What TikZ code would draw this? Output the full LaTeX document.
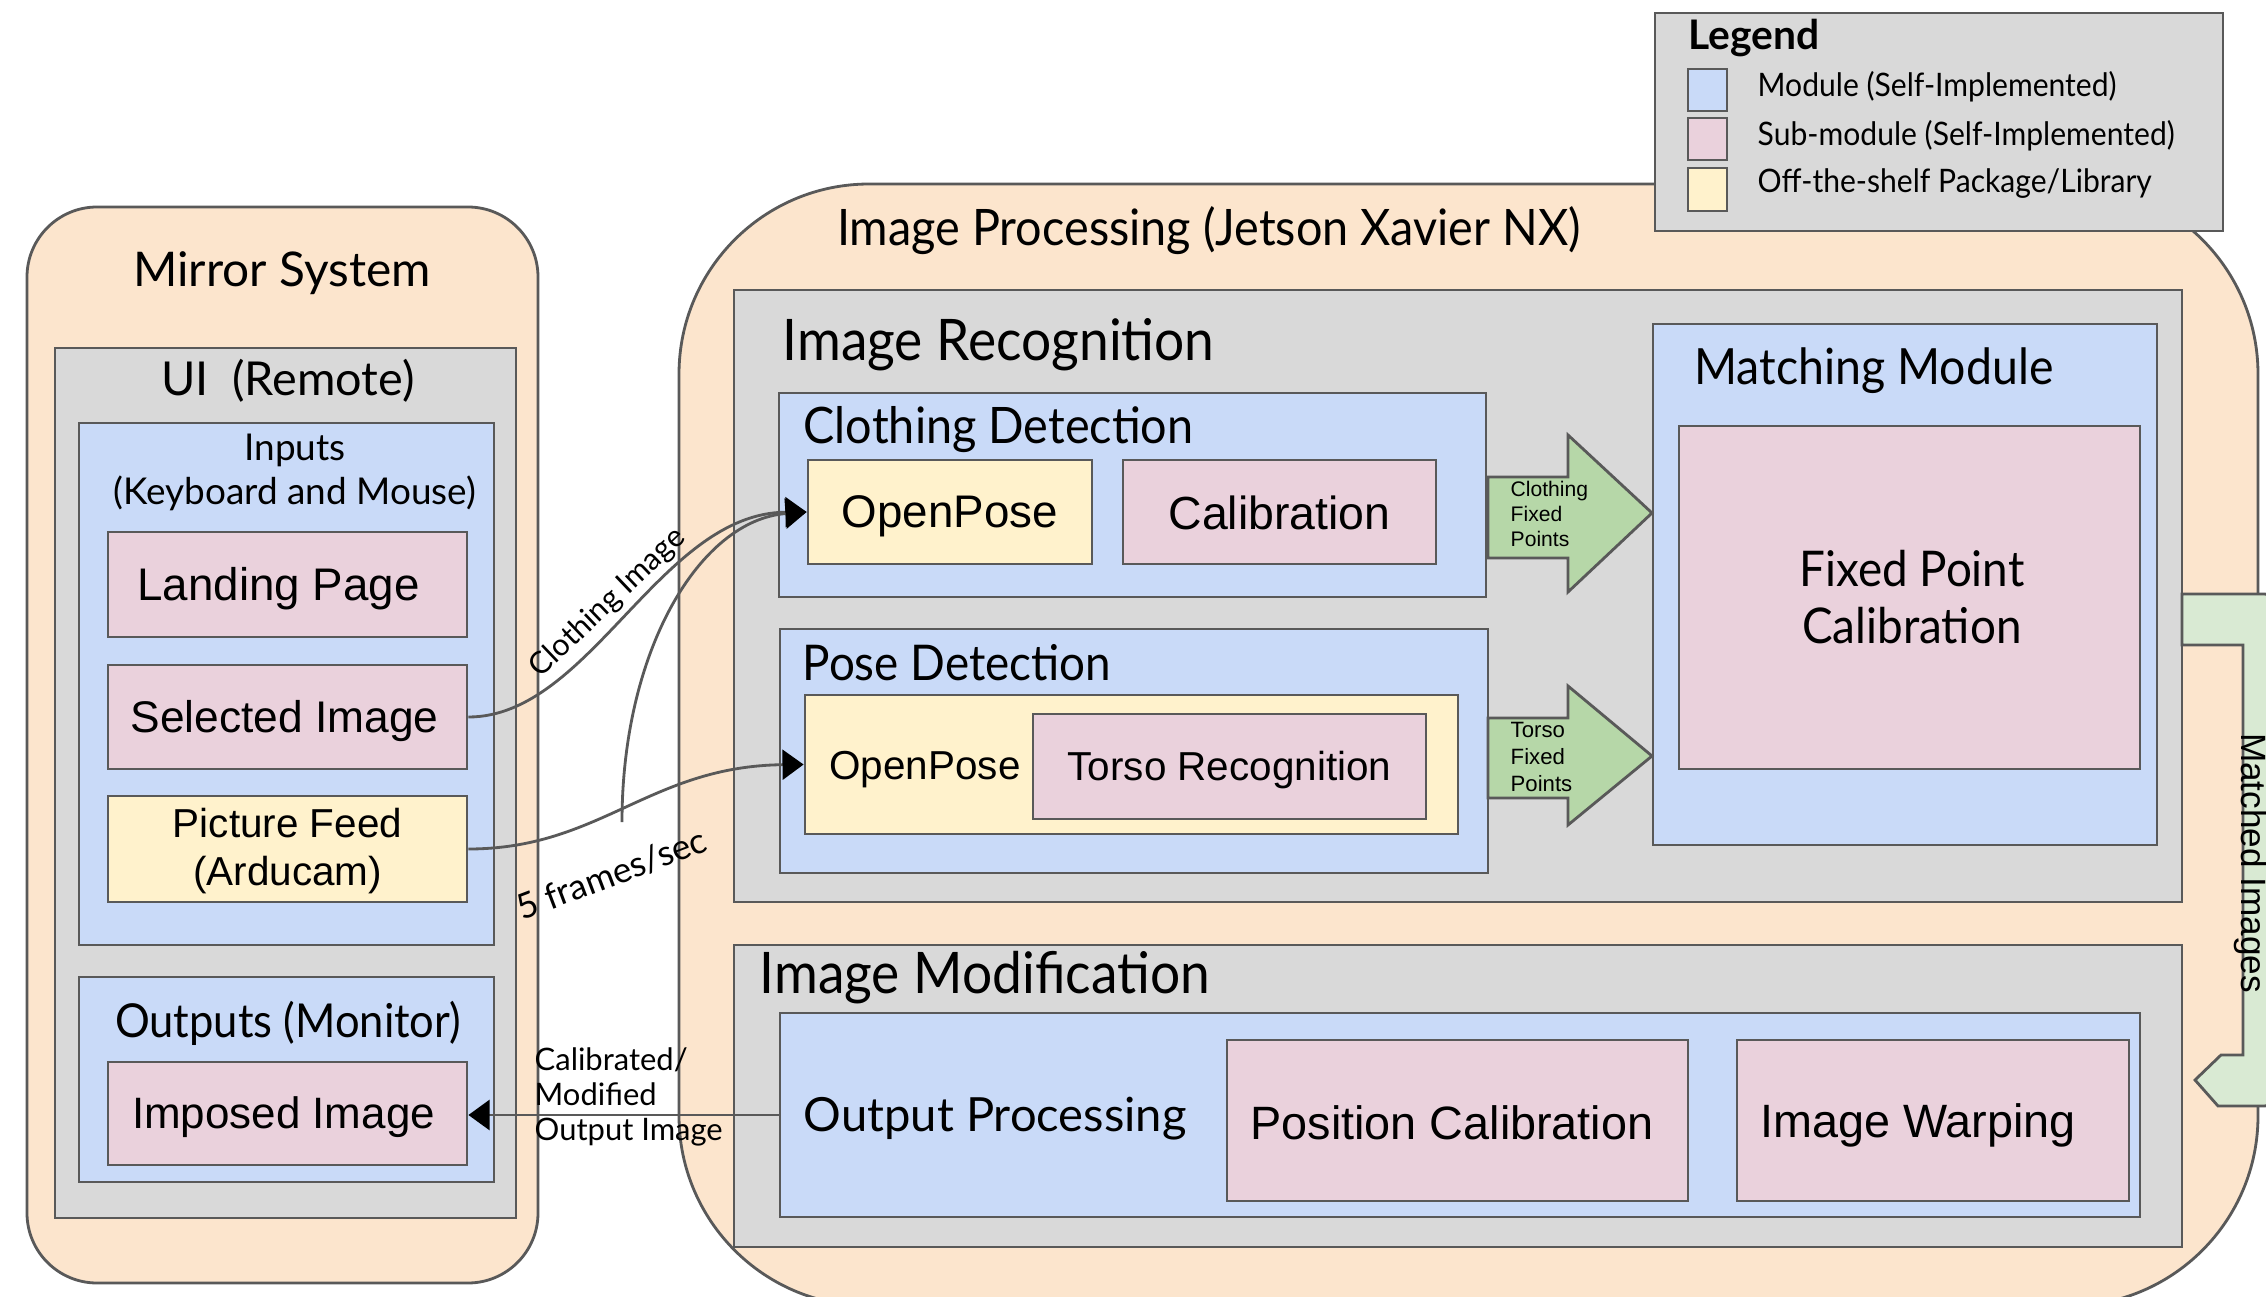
\documentclass[tikz,border=0pt]{standalone}
\usepackage{fontspec}
\setmainfont{Lato}
\newfontfamily\latoc[FakeStretch=0.93]{Lato}
\newfontfamily\arialf{Liberation Sans}
\usetikzlibrary{fit,arrows.meta}

\definecolor{orangebg}{HTML}{FCE5CD}
\definecolor{graybg}{HTML}{D9D9D9}
\definecolor{bluebg}{HTML}{C9DAF8}
\definecolor{pinkbg}{HTML}{EAD1DC}
\definecolor{yellowbg}{HTML}{FFF2CC}
\definecolor{greenarrow}{HTML}{B6D7A8}
\definecolor{greenlight}{HTML}{D9EAD3}
\definecolor{edgecol}{HTML}{595959}

\begin{document}
\begin{tikzpicture}[x=0.01cm, y=-0.01cm,
  box/.style={draw=edgecol, line width=0.8pt, inner sep=0pt},
  orangebox/.style={box, fill=orangebg},
  graybox/.style={box, fill=graybg},
  bluebox/.style={box, fill=bluebg},
  pinkbox/.style={box, fill=pinkbg},
  yellowbox/.style={box, fill=yellowbg},
  txt/.style={inner sep=0pt, text=black},
  conn/.style={draw=edgecol, line width=0.8pt, -{Triangle[length=6pt, width=8.5pt, black]}},
  fatarrow/.style={draw=edgecol, line width=0.8pt, fill=greenarrow},
]
\useasboundingbox (0,0) rectangle (2266,1297);
\clip (0,0) rectangle (2266,1297);
\fill[white] (0,0) rectangle (2266,1297);

% ---------- Mirror system ----------
\node[orangebox, rounded corners=0.7cm, fit={(27,207) (538,1283)}] (mirror) {};
\node[txt, font=\fontsize{13.6}{16}\selectfont] (mirrorT) at (282,273) {Mirror System};
\node[graybox, fit={(55,348) (516,1218)}] (ui) {};
\node[txt, font=\fontsize{13.3}{16}\selectfont] (uiT) at (288,381) {UI\enspace(Remote)};
\node[bluebox, fit={(79,423) (494,945)}] (inputs) {};
\node[txt, align=center, font=\fontsize{10.5}{12.5}\selectfont] (inputsT) at (295,472) {Inputs\\(Keyboard and Mouse)};
\node[pinkbox, fit={(108,532) (467,637)}] (landing) {};
\node[txt, font=\arialf\fontsize{13}{15}\selectfont] (landingT) at ([shift={(-9,4)}]landing.center) {Landing Page};
\node[pinkbox, fit={(108,665) (467,769)}] (selimg) {};
\node[txt, font=\arialf\fontsize{12.6}{15}\selectfont] (selimgT) at ([shift={(-3,4)}]selimg.center) {Selected Image};
\node[yellowbox, fit={(108,796) (467,902)}] (feed) {};
\node[txt, align=center, font=\arialf\fontsize{11.5}{13.6}\selectfont] (feedT) at ([shift={(0,2)}]feed.center) {Picture Feed\\(Arducam)};
\node[bluebox, fit={(79,977) (494,1182)}] (outputs) {};
\node[txt, font=\latoc\fontsize{13.3}{16}\selectfont] (outputsT) at (288,1023) {Outputs (Monitor)};
\node[pinkbox, fit={(108,1062) (467,1165)}] (imposed) {};
\node[txt, font=\arialf\fontsize{12.5}{15}\selectfont] (imposedT) at ([shift={(-4,4)}]imposed.center) {Imposed Image};

% ---------- Image processing ----------
\node[orangebox, rounded corners=1.9cm, fit={(679,184) (2258,1306)}] (proc) {};
\node[txt, font=\latoc\fontsize{14.3}{17}\selectfont] (procT) at (1209,231) {Image Processing (Jetson Xavier NX)};

\node[graybox, fit={(734,290) (2182,902)}] (recog) {};
\node[txt, anchor=west, font=\latoc\fontsize{16.3}{19}\selectfont] (recogT) at (782,345) {Image Recognition};

\node[bluebox, fit={(779,393) (1486,597)}] (cloth) {};
\node[txt, anchor=west, font=\latoc\fontsize{14.3}{17}\selectfont] (clothT) at (803,430) {Clothing Detection};
\node[yellowbox, fit={(808,460) (1092,564)}] (op1) {};
\node[txt, font=\arialf\fontsize{13}{15}\selectfont] (op1T) at ([shift={(0,4)}]op1.center) {OpenPose};
\node[pinkbox, fit={(1123,460) (1436,564)}] (calib) {};
\node[txt, font=\arialf\fontsize{13.2}{15}\selectfont] (calibT) at ([shift={(0,1)}]calib.center) {Calibration};

\node[bluebox, fit={(780,629) (1488,873)}] (pose) {};
\node[txt, anchor=west, font=\latoc\fontsize{14}{17}\selectfont] (poseT) at (802,663) {Pose Detection};
\node[yellowbox, fit={(805,695) (1458,834)}] (op2) {};
\node[txt, font=\arialf\fontsize{11.5}{14}\selectfont] (op2T) at (925,770) {OpenPose};
\node[pinkbox, fit={(1033,714) (1426,819)}] (torso) {};
\node[txt, font=\arialf\fontsize{11.5}{14}\selectfont] (torsoT) at ([shift={(0,4)}]torso.center) {Torso Recognition};

\node[bluebox, fit={(1653,324) (2157,845)}] (match) {};
\node[txt, font=\latoc\fontsize{14.2}{17}\selectfont] (matchT) at (1874,371) {Matching Module};
\node[pinkbox, fit={(1679,426) (2140,769)}] (fpc) {};
\node[txt, align=center, font=\latoc\fontsize{14}{16.3}\selectfont] (fpcT) at (1912,597) {Fixed Point\\Calibration};

\node[graybox, fit={(734,945) (2182,1247)}] (modif) {};
\node[txt, anchor=west, font=\latoc\fontsize{16.3}{19}\selectfont] (modifT) at (759,978) {Image Modification};
\node[bluebox, fit={(780,1013) (2140,1217)}] (outproc) {};
\node[txt, anchor=west, font=\fontsize{13.4}{16}\selectfont] (outprocT) at (803,1119) {Output Processing};
\node[pinkbox, fit={(1227,1040) (1688,1201)}] (poscal) {};
\node[txt, font=\arialf\fontsize{13.3}{15}\selectfont] (poscalT) at (1452,1123) {Position Calibration};
\node[pinkbox, fit={(1737,1040) (2129,1201)}] (warp) {};
\node[txt, font=\arialf\fontsize{13.3}{15}\selectfont] (warpT) at (1918,1125) {Image Warping};

% ---------- Fixed point arrows ----------
\draw[fatarrow] (1488,477) -- (1568,477) -- (1568,435) -- (1652,513) -- (1568,592) -- (1568,558) -- (1488,558) -- cycle;
\node[txt, anchor=west, align=left, font=\arialf\fontsize{6}{7}\selectfont] (clothFP) at (1510,514) {Clothing\\Fixed\\Points};
\draw[fatarrow] (1488,718) -- (1568,718) -- (1568,686) -- (1652,756) -- (1568,825) -- (1568,798) -- (1488,798) -- cycle;
\node[txt, anchor=west, align=left, font=\arialf\fontsize{6.3}{7.8}\selectfont] (torsoFP) at (1510,757) {Torso\\Fixed\\Points};

% ---------- Matched images return arrow ----------
\draw[draw=edgecol, line width=0.8pt, fill=greenlight]
  (2182,645) -- (2182,594) [rounded corners=0.2cm] -- (2284,594) -- (2284,1106)
  [sharp corners] -- (2218,1106) -- (2195,1080) -- (2221,1055) -- (2243,1055) -- (2243,645) -- cycle;
\node[txt, rotate=-90, anchor=base, font=\arialf\fontsize{10}{12}\selectfont] (matchedT) at (2241,863) {Matched Images};

% ---------- Connectors ----------
\coordinate (branch) at (622,822);
\draw[conn] (selimg.east) .. controls (590,717) and (660,513) .. (op1.west);
\draw[conn] (feed.east) .. controls (600,849) and (650,766) .. (op2.west);
\draw[conn] (branch) .. controls (622,650) and (700,520) .. (op1.west);
\draw[conn] (outproc.west) -- (outproc.west -| imposed.east);

\node[txt, rotate=43.6, font=\fontsize{8.7}{10}\selectfont] (clothImgT) at (608,603) {Clothing Image};
\node[txt, rotate=20.7, font=\fontsize{10}{12}\selectfont] (fpsT) at (612,874) {5 frames/sec};
\node[txt, anchor=west, align=left, font=\fontsize{8.8}{10}\selectfont] (calT) at (534,1097) {Calibrated/\\Modified\\Output Image};

% ---------- Legend ----------
\node[graybox, fit={(1655,13) (2223,231)}] (legend) {};
\node[txt, anchor=west, font=\bfseries\fontsize{11.6}{13}\selectfont] (legendT) at (1688,38) {Legend};
\node[bluebox, fit={(1688,69) (1727,111)}] (legB) {};
\node[pinkbox, fit={(1688,118) (1727,160)}] (legP) {};
\node[yellowbox, fit={(1688,168) (1727,211)}] (legY) {};
\node[txt, anchor=west, font=\latoc\fontsize{9.2}{11}\selectfont] (legBT) at (1757,87) {Module (Self-Implemented)};
\node[txt, anchor=west, font=\latoc\fontsize{9.2}{11}\selectfont] (legPT) at (1757,136) {Sub-module (Self-Implemented)};
\node[txt, anchor=west, font=\latoc\fontsize{9.2}{11}\selectfont] (legYT) at (1757,184) {Off-the-shelf Package/Library};
\end{tikzpicture}
\end{document}
